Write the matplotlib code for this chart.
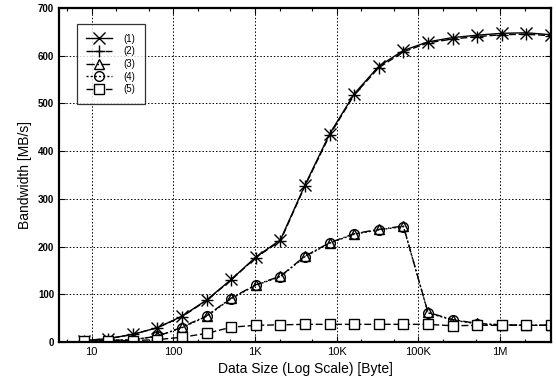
import matplotlib
matplotlib.use("Agg")
import matplotlib.pyplot as plt
from matplotlib.ticker import FixedLocator, NullFormatter

plt.rcParams['font.family'] = ['Liberation Sans', 'DejaVu Sans']

sizes = [2 ** k for k in range(3, 23)]
s1 = [3, 7, 16, 30, 54, 88, 131, 178, 214, 329, 436, 520, 578, 611, 629, 638, 643, 647, 648, 644]
s2 = [3, 7, 16, 30, 53, 87, 130, 177, 212, 327, 433, 518, 575, 608, 627, 635, 640, 644, 645, 642]
s3 = [2, 3, 5, 12, 31, 55, 92, 120, 138, 180, 208, 227, 236, 243, 62, 47, 39, 36, 35, 35]
s4 = [2, 3, 5, 12, 30, 54, 91, 119, 137, 179, 207, 226, 235, 242, 61, 46, 38, 36, 35, 35]
s5 = [2, 2, 3, 5, 10, 18, 31, 35, 36, 37, 37, 37, 37, 37, 37, 34, 35, 35, 35, 35]
labels = ['(1)', '(2)', '(3)', '(4)', '(5)']
xticks = [10, 100, 1000, 10000, 100000, 1000000]
xticklabels = ['10', '100', '1K', '10K', '100K', '1M']

fig = plt.figure(figsize=(5.56, 3.83), dpi=100)
ax = fig.add_axes([59 / 556, 41 / 383, 492 / 556, 334 / 383])

styles = [
    dict(marker='x', linestyle='-', ms=8, mew=1.0),
    dict(marker='+', linestyle=(0, (5, 2)), ms=9, mew=1.0),
    dict(marker='^', linestyle=(0, (6, 2, 1, 2)), ms=6.5, mew=1.0, mfc='none'),
    dict(marker='o', linestyle=(0, (1.5, 1.5)), ms=7, mew=1.0, mfc='none'),
    dict(marker='s', linestyle=(0, (5, 2)), ms=7.5, mew=1.0, mfc='white'),
]
for data, lab, st in zip([s1, s2, s3, s4, s5], labels, styles):
    ax.plot(sizes, data, color='black', lw=1.0, mec='black', label=lab, **st)

ax.set_xscale('log')
ax.set_xlim(4, 2 ** 22)
ax.set_ylim(0, 700)
ax.xaxis.set_major_locator(FixedLocator(xticks))
ax.set_xticklabels(xticklabels, fontsize=8)
ax.xaxis.set_minor_locator(FixedLocator([m * 10 ** e for e in range(0, 7) for m in (2, 5)]))
ax.xaxis.set_minor_formatter(NullFormatter())
ax.set_yticks(range(0, 701, 100))
ax.tick_params(axis='y', labelsize=7)
for lbl in ax.get_yticklabels():
    lbl.set_fontweight('bold')
ax.tick_params(which='both', direction='in', top=True, right=True)
ax.tick_params(which='major', length=4, width=0.8)
ax.tick_params(which='minor', length=2.5, width=0.8)
ax.grid(True, which='major', color='black', linestyle=(0, (1.5, 2)), linewidth=0.7)
for sp in ax.spines.values():
    sp.set_linewidth(1.6)

ax.set_xlabel('Data Size (Log Scale) [Byte]', fontsize=10)
ax.set_ylabel('Bandwidth [MB/s]', fontsize=10)

leg = ax.legend(loc='upper left', bbox_to_anchor=(0.036, 0.952), fontsize=7,
                frameon=True, fancybox=False, handlelength=2.6, labelspacing=0.27,
                borderpad=1.0, handletextpad=1.2, borderaxespad=0)
leg.get_frame().set_edgecolor('black')
leg.get_frame().set_linewidth(0.9)

fig.savefig('out.png', dpi=100)
